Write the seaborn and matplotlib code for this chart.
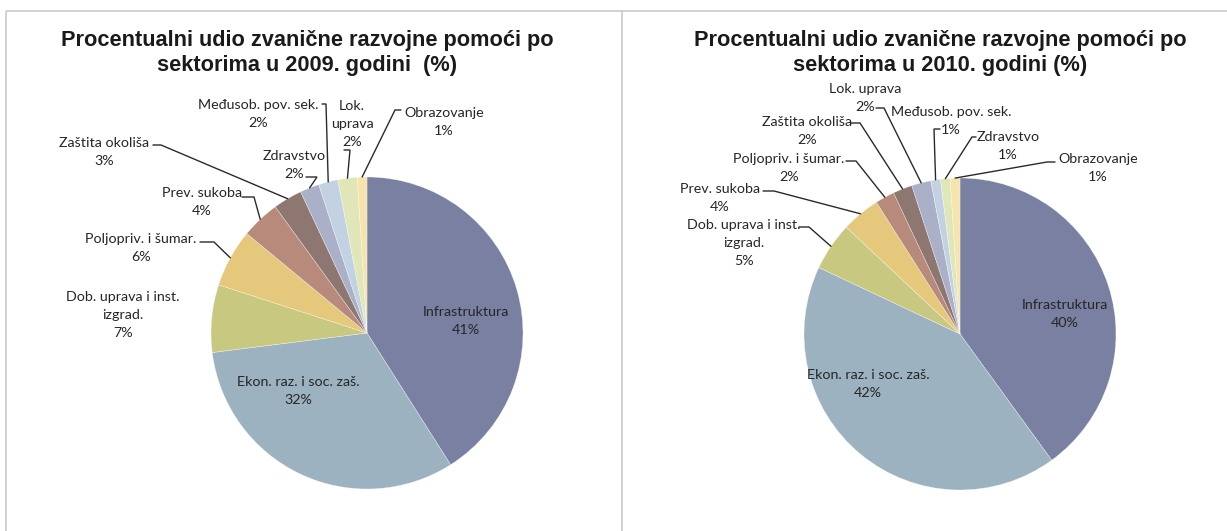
import numpy as np
import matplotlib
matplotlib.use("Agg")
import matplotlib.pyplot as plt
import seaborn as sns

# ---- data -------------------------------------------------------------
sectors_2009 = ["Infrastruktura", "Ekon. raz. i soc. zaš.", "Dob. uprava i inst.\nizgrad.",
                "Poljopriv. i šumar.", "Prev. sukoba", "Zaštita okoliša",
                "Zdravstvo", "Međusob. pov. sek.", "Lok.\nuprava", "Obrazovanje"]
shares_2009 = [41, 32, 7, 6, 4, 3, 2, 2, 2, 1]

sectors_2010 = ["Infrastruktura", "Ekon. raz. i soc. zaš.", "Dob. uprava i inst.\nizgrad.",
                "Prev. sukoba", "Poljopriv. i šumar.", "Zaštita okoliša",
                "Lok. uprava", "Međusob. pov. sek.", "Zdravstvo", "Obrazovanje"]
shares_2010 = [40, 42, 5, 4, 2, 2, 2, 1, 1, 1]

titles = ["Procentualni udio zvanične razvojne pomoći po\nsektorima u 2009. godini  (%)",
          "Procentualni udio zvanične razvojne pomoći po\nsektorima u 2010. godini (%)"]

slice_colors = ["#7980a1", "#9cb2c0", "#c9c880", "#e5c87b", "#b88a7b",
                "#8e7671", "#aab0c7", "#c2d2e3", "#e1e6b8", "#f6e4ad"]

# ---- layout (pixel units, y downward) ---------------------------------
W, H = 1227, 531
sns.set_theme(style="white")
palette = sns.color_palette(slice_colors)
plt.rcParams["font.family"] = ["Lato", "DejaVu Sans"]

fig = plt.figure(figsize=(W / 100, H / 100), dpi=100)
ax = fig.add_axes([0, 0, 1, 1])

panels = [
    dict(values=shares_2009, names=sectors_2009, title=titles[0], center=(367, 333),
         title_x=307,
         labels=[  # text centre, leader stub (start, elbow) or None
             ((466, 321), None),
             ((298, 391), None),
             ((123, 315), None),
             ((141, 248), [(200, 242), (214, 242)]),
             ((202, 202), [(242, 197), (254, 197)]),
             ((104, 152), [(153, 145), (161, 145)]),
             ((294, 165), [(306, 177), (317, 177)]),
             ((258, 114), [(322, 104), (326, 104)]),
             ((352, 124), [(344, 150), (350, 150)]),
             ((444, 122), [(401, 110), (395, 110)]),
         ]),
    dict(values=shares_2010, names=sectors_2010, title=titles[1], center=(960, 334),
         title_x=940,
         labels=[
             ((1065, 314), None),
             ((868, 384), None),
             ((744, 243), [(799, 227), (809, 227)]),
             ((720, 198), [(763, 191), (774, 191)]),
             ((789, 168), [(846, 161), (856, 161)]),
             ((807, 131), [(851, 123), (860, 123)]),
             ((865, 98), [(876, 108), (884, 108)]),
             ((951, 121), [(940, 129), (934, 129)]),
             ((1008, 146), [(976, 137), (972, 137)]),
             ((1098, 168), [(1055, 162), (1047, 162)]),
         ]),
]
radius = 156

for p in panels:
    vals = np.array(p["values"], dtype=float)
    cx, cy = p["center"]
    # y axis is inverted, so counterclockwise data angles render clockwise
    ax.pie(vals, colors=palette, startangle=-90, counterclock=True,
           center=(cx, cy), radius=radius,
           wedgeprops=dict(linewidth=0.35, edgecolor=(1, 1, 1, 0.6)))
    cum = np.cumsum(vals) - vals / 2
    mids = np.deg2rad(-90 + 360 * cum / vals.sum())
    for name, v, th, (pos, stub) in zip(p["names"], vals, mids, p["labels"]):
        ax.text(pos[0], pos[1], f"{name}\n{int(v)}%", ha="center", va="center",
                ma="center", fontsize=10.3, color="#262626", linespacing=1.58)
        if stub is not None:
            ex = cx + radius * np.cos(th)
            ey = cy + radius * np.sin(th)
            xs = [stub[0][0], stub[1][0], ex]
            ys = [stub[0][1], stub[1][1], ey]
            ax.plot(xs, ys, color="#2a2a2a", lw=1.0, solid_joinstyle="miter")
    ax.text(p["title_x"], 53, p["title"], ha="center", va="center", ma="center",
            fontsize=15.7, fontweight="bold", color="#1a1a1a", linespacing=1.25,
            family=["Liberation Sans", "DejaVu Sans"])

# panel frame lines
frame_kw = dict(color="#c9c9c9", lw=1.2, solid_capstyle="butt")
ax.plot([6, W], [11, 11], **frame_kw)
ax.plot([6, 6], [11, H], **frame_kw)
ax.plot([622, 622], [11, H], **frame_kw)

ax.set_xlim(0, W)
ax.set_ylim(H, 0)
ax.set_aspect("auto")
ax.axis("off")

fig.savefig("out.png", dpi=100, facecolor="white")
